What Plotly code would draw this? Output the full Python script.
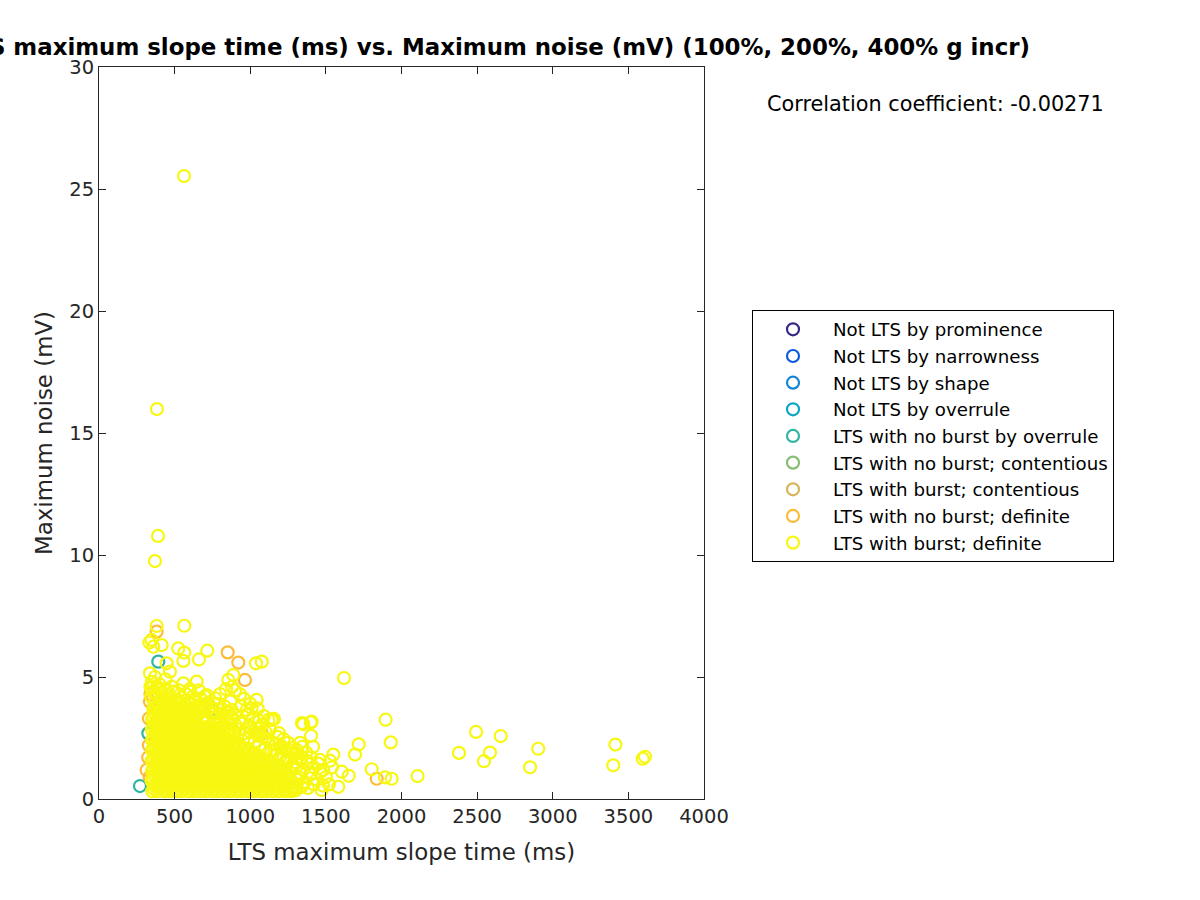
import plotly.graph_objects as go

# ---------------- data ----------------
categories = [
    "Not LTS by prominence",
    "Not LTS by narrowness",
    "Not LTS by shape",
    "Not LTS by overrule",
    "LTS with no burst by overrule",
    "LTS with no burst; contentious",
    "LTS with burst; contentious",
    "LTS with no burst; definite",
    "LTS with burst; definite",
]
colors = ["#352A87", "#0B5BDB", "#1585D5", "#0CA6C9", "#2EB6A2",
          "#86BE76", "#D5B65A", "#FDBB3A", "#F7F712"]

# LTS with no burst by overrule (teal)
teal_x = [392, 326, 271, 745, 400, 420]
teal_y = [5.63, 2.69, 0.53, 3.65, 3.2, 4.0]

# LTS with no burst; definite (orange)
orange_x = [381, 851, 921, 965, 337, 315, 1076, 1836, 330, 330, 325, 335, 340, 600, 800]
orange_y = [6.86, 6.01, 5.59, 4.88, 3.99, 1.19, 2.69, 0.83, 3.3, 2.2, 1.7, 0.9, 4.3, 2.5, 1.9]

# LTS with burst; definite (yellow) -- dense core, row by row
core_row_y = [0.32, 0.42, 0.53, 0.63, 0.74, 0.84, 0.95, 1.05, 1.16, 1.26, 1.37, 1.47,
              1.58, 1.68, 1.79, 1.89, 2.00, 2.10, 2.21, 2.31, 2.42, 2.52, 2.63, 2.73,
              2.84, 2.94, 3.05, 3.15, 3.26, 3.36, 3.47, 3.57, 3.68, 3.78]
core_row_x = [
    [352, 388, 433, 468, 511, 547, 593, 628, 671, 709, 752, 788, 833, 869, 912, 948, 991, 1028, 1072, 1108, 1151, 1189, 1232, 1268],
    [362, 401, 442, 479, 521, 561, 602, 639, 681, 722, 759, 801, 842, 879, 921, 961, 999, 1041, 1081, 1119, 1161, 1199, 1241, 1279],
    [371, 409, 452, 489, 531, 568, 612, 649, 690, 731, 768, 812, 849, 891, 928, 972, 1009, 1052, 1089, 1131, 1168, 1212, 1248, 1290],
    [381, 419, 461, 502, 539, 581, 619, 661, 701, 739, 782, 821, 859, 901, 941, 979, 1021, 1062, 1099, 1141, 1181, 1219, 1261],
    [348, 392, 429, 471, 508, 553, 589, 631, 668, 712, 749, 791, 829, 872, 909, 951, 988, 1031, 1069, 1112, 1149, 1191, 1228, 1271],
    [359, 402, 441, 479, 522, 559, 601, 642, 679, 721, 761, 799, 841, 882, 919, 961, 1001, 1039, 1081, 1121, 1159, 1201, 1242],
    [369, 412, 449, 491, 529, 572, 609, 651, 688, 729, 771, 809, 852, 889, 931, 969, 1011, 1048, 1092, 1129, 1171, 1208, 1251],
    [382, 421, 459, 501, 541, 579, 622, 661, 699, 741, 781, 819, 861, 901, 939, 982, 1021, 1059, 1101, 1141, 1179, 1221],
    [351, 389, 432, 469, 512, 548, 591, 629, 672, 708, 751, 789, 832, 868, 911, 949, 992, 1029, 1071, 1109, 1152, 1188, 1231],
    [361, 399, 442, 481, 519, 561, 601, 639, 682, 721, 759, 801, 841, 879, 922, 961, 999, 1041, 1081, 1119, 1161, 1199],
    [372, 408, 451, 488, 532, 569, 611, 648, 692, 729, 772, 808, 851, 888, 932, 969, 1011, 1049, 1091, 1128, 1169],
    [379, 421, 461, 499, 541, 581, 619, 661, 702, 739, 781, 821, 859, 901, 941, 979, 1021, 1062, 1099, 1139],
    [349, 391, 431, 472, 509, 551, 588, 632, 669, 711, 748, 792, 828, 871, 912, 949, 989, 1032, 1069, 1111],
    [361, 401, 439, 481, 521, 559, 601, 642, 679, 721, 761, 799, 841, 881, 919, 961, 1002, 1039, 1079],
    [371, 411, 448, 492, 528, 571, 612, 649, 689, 731, 769, 811, 851, 889, 929, 971, 1012, 1049],
    [381, 419, 461, 501, 539, 582, 621, 659, 701, 741, 779, 821, 861, 899, 941, 981, 1019],
    [352, 389, 429, 471, 511, 548, 592, 629, 671, 709, 752, 789, 831, 868, 911, 952, 989],
    [359, 401, 441, 479, 521, 561, 599, 641, 682, 719, 761, 801, 839, 881, 921, 959],
    [369, 409, 452, 488, 531, 569, 609, 652, 689, 728, 771, 811, 848, 891, 929],
    [381, 421, 459, 501, 541, 579, 621, 661, 699, 742, 781, 819, 861, 899],
    [351, 392, 428, 471, 512, 549, 589, 631, 671, 712, 749, 789, 832, 869],
    [361, 399, 441, 481, 519, 561, 602, 639, 681, 721, 759, 801, 839],
    [372, 408, 449, 491, 528, 572, 608, 651, 689, 731, 768, 811, 849, 891],
    [379, 421, 461, 499, 541, 581, 619, 661, 701, 739, 781, 821, 859, 899],
    [349, 389, 432, 469, 511, 551, 591, 629, 671, 709, 752, 789, 831, 869],
    [361, 401, 439, 481, 521, 559, 601, 641, 681, 721, 759, 801, 839],
    [371, 411, 451, 489, 531, 568, 609, 652],
    [381, 419, 461, 501, 539, 581, 619],
    [352, 392, 429, 471, 511, 549, 591, 631],
    [359, 401, 441, 481, 519, 561, 599, 641],
    [369, 411, 452, 488, 531, 569, 609, 652],
    [361, 399, 441, 481, 519, 561, 602],
    [372, 408, 449, 491, 528, 572, 608],
    [379, 421, 461, 499, 541, 581],
]

# LTS with burst; definite (yellow) -- fringe and outliers
fringe_x = [
    360, 395, 430, 470, 520, 560, 610, 650, 700, 760, 820, 880, 930, 990, 1040,
    345, 380, 420, 460, 500, 545, 590, 640, 690, 745, 800, 850, 900,
    350, 370, 400, 440, 480, 600, 660, 700, 800, 840, 880, 900, 960, 1000, 1050, 1090, 1060,
    1000, 1050, 1100, 1150, 1200, 1240, 1290, 1330, 1380, 1420, 1300, 1350, 1400, 1440,
    1360, 1320, 1380, 1420, 1300, 1340, 1060, 1100, 1180, 1250, 1280, 1160, 1240, 1280, 1200,
    340, 355, 365, 385, 410, 440, 455, 490, 530, 575, 620, 675, 720, 780, 830, 870, 940,
    985, 1020, 1080, 1130, 1190, 1220, 1310, 1330, 1370, 1400, 1450, 1460, 1500, 1520, 1540, 1480,
    420, 480, 540, 600, 650, 690, 720, 760, 800, 850, 900, 930, 960, 990, 1030, 1060, 1100,
    1140, 1180, 1220, 1250, 1280, 1300, 1330, 1310, 1350, 1300, 1260,
    700, 740, 780, 830, 880, 950, 1000, 1040, 1080, 1120, 1170, 1210, 1260, 1300, 1340, 1380,
    562, 383, 390, 370, 381, 564, 348, 333, 359, 414, 524, 564, 558, 661, 716,
    1038, 1076, 447, 337, 469, 646, 558, 855, 888, 932, 348, 403, 602, 712, 767,
    1042, 1009, 977, 877, 514, 1120, 1152, 1351, 1406,
    1620, 1895, 1929, 1717, 1693, 1549, 1527, 1803, 1891, 1935, 2106, 2380, 2493,
    2545, 2585, 2656, 2850, 2904, 3414, 3400, 3595, 3610, 1342, 1400, 1402, 1344,
    1415, 1142, 1157, 1605, 1651, 1582, 1461, 1483, 1472,
]
fringe_y = [
    3.70, 3.85, 3.60, 3.75, 3.90, 3.70, 3.55, 3.80, 3.60, 3.50, 3.40, 3.30, 3.15, 3.00, 2.90,
    4.20, 4.30, 4.10, 4.25, 4.05, 4.15, 3.95, 4.00, 3.85, 3.75, 3.65, 3.55, 3.45,
    4.80, 5.00, 4.70, 4.90, 4.60, 4.50, 4.45, 4.20, 4.30, 4.50, 4.60, 4.45, 4.10, 3.90, 3.70, 3.40, 3.20,
    2.75, 2.60, 2.50, 2.30, 2.10, 1.95, 1.80, 1.60, 1.45, 1.30, 1.50, 1.20, 1.00, 0.80,
    0.70, 0.90, 0.45, 0.60, 0.35, 0.50, 2.90, 2.75, 2.55, 2.30, 2.10, 2.00, 1.60, 1.30, 1.75,
    4.60, 4.40, 3.90, 4.60, 4.35, 4.50, 3.95, 4.40, 4.45, 4.30, 4.20, 4.10, 3.95, 3.90, 3.80, 4.00, 3.80,
    3.50, 3.35, 3.05, 2.85, 2.70, 2.45, 2.00, 2.30, 1.90, 1.70, 1.45, 1.10, 0.90, 0.60, 1.30, 0.55,
    4.05, 4.00, 3.95, 3.90, 3.70, 3.40, 3.20, 3.15, 3.10, 3.20, 3.05, 2.85, 2.70, 2.50, 2.35, 2.20, 2.05,
    1.95, 1.85, 1.70, 1.55, 1.40, 1.25, 1.05, 0.80, 0.60, 0.45, 0.35,
    3.75, 3.50, 3.40, 3.45, 3.35, 3.10, 2.90, 2.70, 2.55, 2.40, 2.25, 2.15, 2.00, 1.85, 1.70, 1.55,
    25.53, 15.98, 10.78, 9.75, 7.09, 7.10, 6.52, 6.41, 6.24, 6.31, 6.17, 6.00, 5.66, 5.72, 6.08,
    5.56, 5.63, 5.56, 5.15, 5.22, 4.81, 4.74, 4.88, 5.08, 4.29, 4.54, 4.47, 4.40, 4.26, 4.13,
    4.06, 3.72, 3.65, 3.65, 4.06, 3.24, 3.28, 3.07, 3.17,
    4.96, 3.25, 2.32, 2.24, 1.82, 1.82, 1.57, 1.22, 0.89, 0.83, 0.94, 1.89, 2.75,
    1.55, 1.90, 2.58, 1.30, 2.06, 2.23, 1.38, 1.65, 1.73, 3.11, 3.14, 2.59, 2.14,
    2.14, 3.24, 3.28, 1.12, 0.95, 0.50, 1.60, 1.19, 0.37,
]

x_ticks = [0, 500, 1000, 1500, 2000, 2500, 3000, 3500, 4000]
y_ticks = [0, 5, 10, 15, 20, 25, 30]
corr_text = "Correlation coefficient: -0.00271"
title_text = "LTS maximum slope time (ms) vs. Maximum noise (mV) (100%, 200%, 400% g incr)"

# assemble yellow series
yellow_x = list(fringe_x)
yellow_y = list(fringe_y)
for yv, row in zip(core_row_y, core_row_x):
    for xv in row:
        yellow_x.append(xv)
        yellow_y.append(yv)

series = {
    4: (teal_x, teal_y),
    7: (orange_x, orange_y),
    8: (yellow_x, yellow_y),
}

# ---------------- figure ----------------
FONT = "DejaVu Sans"
AX = "#262626"
fig = go.Figure()
for i, name in enumerate(categories):
    xs, ys = series.get(i, ([None], [None]))
    fig.add_trace(go.Scatter(
        x=xs, y=ys, mode="markers", name=name,
        legendgroup=str(i),
        marker=dict(symbol="circle-open", size=12, color=colors[i],
                    line=dict(width=2.2, color=colors[i])),
    ))

axis_common = dict(
    showline=True, linecolor=AX, linewidth=1, mirror="ticks",
    ticks="inside", ticklen=7, tickcolor=AX, tickwidth=1,
    showgrid=False, zeroline=False,
    tickfont=dict(family=FONT, size=19.5, color=AX),
)
fig.update_layout(
    width=1200, height=900,
    margin=dict(l=99, r=496, t=67, b=101),
    paper_bgcolor="white", plot_bgcolor="white",
    showlegend=True,
    title=dict(text="<b>" + title_text + "</b>", xref="container", x=1030 / 1200,
               xanchor="right", y=1 - 47 / 900, yanchor="middle",
               font=dict(family=FONT, size=22.9, color="black")),
    xaxis=dict(range=[0, 4000], tickvals=x_ticks, ticktext=[str(v) for v in x_ticks],
               title=dict(text="LTS maximum slope time (ms)", standoff=16,
                          font=dict(family=FONT, size=22.9, color=AX)),
               **axis_common),
    yaxis=dict(range=[0, 30], tickvals=y_ticks, ticktext=[str(v) for v in y_ticks],
               title=dict(text="Maximum noise (mV)", standoff=10,
                          font=dict(family=FONT, size=22.9, color=AX)),
               **axis_common),
    legend=dict(x=(752 - 99) / 605, y=(799 - 310) / 732, xanchor="left", yanchor="top",
                bordercolor="black", borderwidth=1, bgcolor="white",
                font=dict(family=FONT, size=18.2, color="black"),
                traceorder="grouped", tracegroupgap=0, itemsizing="trace",
                itemwidth=70),
    annotations=[dict(text=corr_text, xref="paper", yref="paper",
                      x=(765 - 99) / 605, y=(799 - 104) / 732, xanchor="left", yanchor="middle",
                      showarrow=False, font=dict(family=FONT, size=20.8, color="black"))],
)
fig.write_html("out.html")
